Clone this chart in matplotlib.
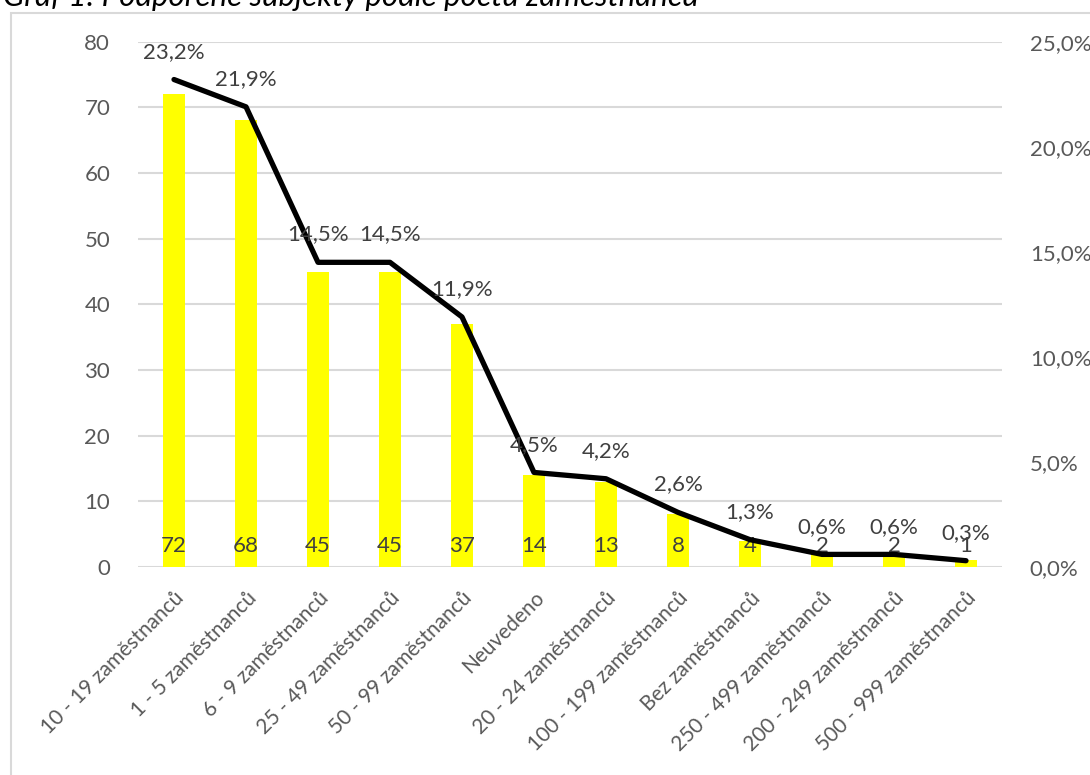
import matplotlib.pyplot as plt
from matplotlib.patches import Rectangle
from matplotlib.ticker import FuncFormatter

plt.rcParams['font.family'] = ['Lato', 'DejaVu Sans']

categories = ["10 - 19 zaměstnanců", "1 - 5 zaměstnanců", "6 - 9 zaměstnanců",
              "25 - 49 zaměstnanců", "50 - 99 zaměstnanců", "Neuvedeno",
              "20 - 24 zaměstnanců", "100 - 199 zaměstnanců", "Bez zaměstnanců",
              "250 - 499 zaměstnanců", "200 - 249 zaměstnanců", "500 - 999 zaměstnanců"]
counts = [72, 68, 45, 45, 37, 14, 13, 8, 4, 2, 2, 1]
shares = [23.2, 21.9, 14.5, 14.5, 11.9, 4.5, 4.2, 2.6, 1.3, 0.6, 0.6, 0.3]

grey = '#595959'
dark = '#404040'

fig = plt.figure(figsize=(10.9, 7.75), dpi=100)

# chart frame (Excel style), goes off the right and bottom edges
fig.patches.append(Rectangle((11 / 1090, -0.1), 1.2, 1 - 13 / 775 + 0.1,
                             transform=fig.transFigure, fill=False,
                             edgecolor='#d9d9d9', lw=1.5))

fig.text(0.003, 1 - 6 / 775, "Graf 1: Podpořené subjekty podle počtu zaměstnanců",
         fontsize=22.5, style='italic', color='black', va='baseline', ha='left')

ax = fig.add_axes([138 / 1090, 1 - 567 / 775, (1002 - 138) / 1090, (567 - 41.7) / 775])
x = list(range(len(categories)))
ax.bar(x, counts, width=0.31, color='#ffff00', zorder=2)
ax.set_xlim(-0.5, len(categories) - 0.5)
ax.set_ylim(0, 80)
ax.set_yticks(range(0, 81, 10))
ax.grid(axis='y', color='#d9d9d9', lw=1.5, zorder=0)
ax.set_axisbelow(True)
for s in ax.spines.values():
    s.set_visible(False)
ax.tick_params(length=0, labelsize=16, colors=grey, pad=20)
ax.tick_params(axis='x', pad=15, labelsize=15)
ax.set_xticks(x)
ax.set_xticklabels(categories, rotation=45, ha='right', rotation_mode='anchor')

for i, c in enumerate(counts):
    ax.annotate(str(c), (i, 0), xytext=(0, 15), textcoords='offset points',
                ha='center', va='center', fontsize=16, color=dark, zorder=4)

ax2 = ax.twinx()
ax2.plot(x, shares, color='black', lw=3.8, solid_capstyle='round', zorder=3)
ax2.set_ylim(0, 25)
ax2.set_yticks(range(0, 26, 5))
ax2.yaxis.set_major_formatter(FuncFormatter(lambda v, p: f"{v:.1f}%".replace('.', ',')))
for s in ax2.spines.values():
    s.set_visible(False)
ax2.tick_params(length=0, labelsize=16, colors=grey, pad=20)

for i, v in enumerate(shares):
    ax2.annotate(f"{v:.1f}%".replace('.', ','), (i, v), xytext=(0, 20),
                 textcoords='offset points', ha='center', va='center',
                 fontsize=16, color=dark)

fig.savefig('out.png', dpi=100)
